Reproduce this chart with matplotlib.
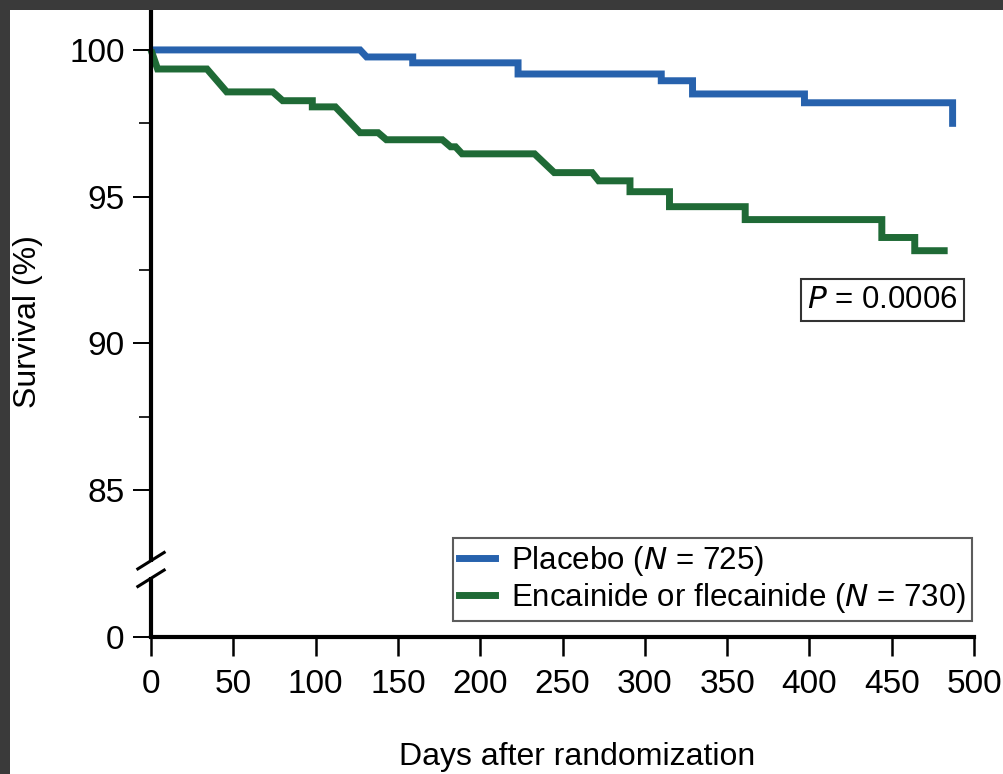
import matplotlib.pyplot as plt
from matplotlib.patches import Rectangle
from matplotlib.lines import Line2D

plt.rcParams['font.family'] = ['Liberation Sans', 'DejaVu Sans']

# Kaplan-Meier curves (vertices)
placebo_days = [0, 127, 131, 159, 159, 223, 223, 310, 310, 329, 329, 397, 397, 487, 487]
placebo_surv = [100, 100, 99.76, 99.76, 99.56, 99.56, 99.18, 99.18, 98.95, 98.95,
                98.5, 98.5, 98.2, 98.2, 97.38]

drug_days = [0, 4, 34, 46, 74, 80, 98, 98, 112, 127, 138, 143, 177, 182, 185, 189,
             233, 245, 268, 272, 291, 291, 315, 315, 361, 361, 444, 444, 464, 464, 484]
drug_surv = [100, 99.35, 99.35, 98.57, 98.57, 98.27, 98.27, 98.06, 98.06, 97.18,
             97.18, 96.94, 96.94, 96.7, 96.7, 96.46, 96.46, 95.82, 95.82, 95.54,
             95.54, 95.17, 95.17, 94.66, 94.66, 94.22, 94.22, 93.61, 93.61, 93.16, 93.16]

x_ticks = [0, 50, 100, 150, 200, 250, 300, 350, 400, 450, 500]
# the "0" tick sits below the axis break
y_ticks = [80, 85, 90, 95, 100]
y_labels = ['0', '85', '90', '95', '100']
y_minor = [87.5, 92.5, 97.5]

BLUE = '#2762ad'
GREEN = '#1f6a36'
FS = 23

W, H = 1004, 774
fig = plt.figure(figsize=(W / 100, H / 100), dpi=100, facecolor='#3a3a3a')
fig.patches.append(Rectangle((10 / W, 0), 1 - 10 / W, 1 - 10 / H,
                             transform=fig.transFigure, facecolor='white',
                             edgecolor='none', zorder=-5))

ax = fig.add_axes([151 / W, 137 / H, 823 / W, 627 / H])
ax.set_facecolor('none')

ax.plot(placebo_days, placebo_surv, color=BLUE, lw=5, solid_joinstyle='miter',
        solid_capstyle='butt', clip_on=False)
ax.plot(drug_days, drug_surv, color=GREEN, lw=5, solid_joinstyle='miter',
        solid_capstyle='butt', clip_on=False)

ax.set_xlim(0, 500)
ax.set_ylim(80, 101.36)

for s in ['top', 'right', 'left']:
    ax.spines[s].set_visible(False)
ax.spines['bottom'].set_linewidth(3)

# left spine with a break
yax = ax.get_yaxis_transform()
ax.plot([0, 0], [80, 82.05], color='black', lw=3, clip_on=False,
        transform=yax, solid_capstyle='butt')
ax.plot([0, 0], [82.55, 101.36], color='black', lw=3, clip_on=False,
        transform=yax, solid_capstyle='butt')
for yb in [82.0, 82.6]:
    ax.plot([-0.016, 0.016], [yb - 0.28, yb + 0.28], color='black', lw=2.2,
            clip_on=False, transform=yax)

ax.set_xticks(x_ticks)
ax.set_yticks(y_ticks)
ax.set_yticklabels(y_labels)
ax.set_yticks(y_minor, minor=True)
ax.tick_params(axis='x', length=14, width=1.8, pad=9, labelsize=24, direction='out')
ax.tick_params(axis='y', which='major', length=13, width=1.4, pad=6, labelsize=24)
ax.tick_params(axis='y', which='minor', length=9, width=1.2)

fig.text(577 / W, 1 - 757 / H, 'Days after randomization', fontsize=FS,
         ha='center', va='center')
fig.text(28 / W, 1 - 322 / H, 'Survival (%)', fontsize=FS, rotation=90,
         ha='center', va='center')

ax.text(0.889, 0.5375, r'$\mathit{P}$ = 0.0006', transform=ax.transAxes,
        fontsize=FS - 0.5, ha='center', va='center',
        bbox=dict(boxstyle='square,pad=0.2', facecolor='white',
                  edgecolor='#333333', lw=1.5))

handles = [Line2D([], [], color=BLUE, lw=5),
           Line2D([], [], color=GREEN, lw=5)]
labels = [r'Placebo ($\mathit{N}$ = 725)',
          r'Encainide or flecainide ($\mathit{N}$ = 730)']
leg = ax.legend(handles, labels, loc='lower right', bbox_to_anchor=(0.9975, 0.025),
                fontsize=FS - 0.5, frameon=True, fancybox=False, handlelength=1.15,
                handletextpad=0.5, borderpad=0.2, borderaxespad=0,
                labelspacing=0.1)
leg.get_frame().set_edgecolor('#333333')
leg.get_frame().set_linewidth(1.5)

fig.savefig('out.png', dpi=100, facecolor=fig.get_facecolor())
